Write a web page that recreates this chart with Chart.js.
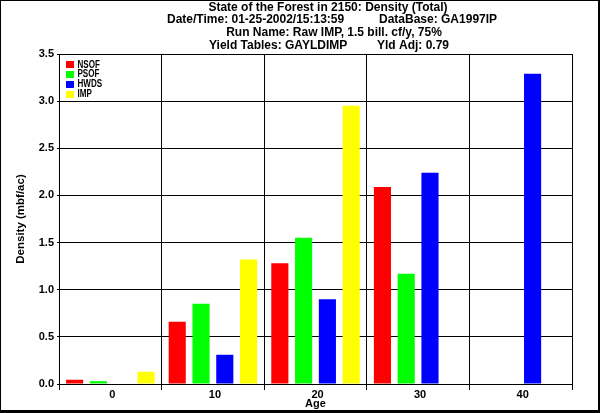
<!DOCTYPE html>
<html>
<head>
<meta charset="utf-8">
<script src="https://cdn.jsdelivr.net/npm/chart.js@4/dist/chart.umd.min.js"></script>
<style>
  html, body { margin: 0; padding: 0; background: #fff; }
  #wrap { width: 600px; height: 413px; }
  canvas { display: block; background: #fff; }
</style>
</head>
<body>
<div id="wrap"><canvas id="c" width="600" height="413"></canvas></div>
<script>
// ---- data ----
const categories = ['0', '10', '20', '30', '40'];
const seriesNames = ['NSOF', 'PSOF', 'HWDS', 'IMP'];
const seriesColors = ['#ff0000', '#00ff00', '#0000ff', '#ffff00'];
const nsofValues = [0.045, 0.66, 1.28, 2.09, null];
const psofValues = [0.03, 0.85, 1.55, 1.17, null];
const hwdsValues = [null, 0.31, 0.90, 2.24, 3.29];
const impValues  = [0.13, 1.32, 2.95, null, null];
const yMin = 0, yMax = 3.5, yStep = 0.5;
const titleLine1 = 'State of the Forest in 2150: Density (Total)';
const titleLine2a = 'Date/Time: 01-25-2002/15:13:59';
const titleLine2b = 'DataBase: GA1997IP';
const titleLine3 = 'Run Name: Raw IMP, 1.5 bill. cf/y, 75%';
const titleLine4a = 'Yield Tables: GAYLDIMP';
const titleLine4b = 'Yld Adj: 0.79';
const xTitle = 'Age';
const yTitle = 'Density (mbf/ac)';

const FONT = "'Liberation Sans', Arial, Helvetica, sans-serif";
const allValues = [nsofValues, psofValues, hwdsValues, impValues];

const datasets = seriesNames.map((name, i) => ({
  label: name,
  data: allValues[i],
  backgroundColor: seriesColors[i],
  borderWidth: 0,
  categoryPercentage: 0.927,
  barPercentage: 0.72
}));

const decorPlugin = {
  id: 'decor',
  afterDraw(chart) {
    const ctx = chart.ctx;
    ctx.save();
    // titles
    ctx.fillStyle = '#000';
    ctx.font = 'bold 12px ' + FONT;
    ctx.textBaseline = 'alphabetic';
    ctx.textAlign = 'center';
    ctx.fillText(titleLine1, 328, 10.5);
    ctx.fillText(titleLine3, 334, 36);
    ctx.textAlign = 'left';
    ctx.fillText(titleLine2a, 167, 23);
    ctx.fillText(titleLine2b, 379, 23);
    ctx.fillText(titleLine4a, 209, 48.5);
    ctx.fillText(titleLine4b, 377, 48.5);

    // legend (from datasets)
    chart.data.datasets.forEach((ds, i) => {
      const top = 61 + i * 9.9;
      ctx.fillStyle = ds.backgroundColor;
      ctx.fillRect(66, Math.round(top), 8, 7);
      ctx.save();
      ctx.fillStyle = '#000';
      ctx.font = 'bold 11.5px ' + FONT;
      ctx.textAlign = 'left';
      ctx.translate(77.5, 67.5 + i * 9.9);
      ctx.scale(0.7, 1);
      ctx.fillText(ds.label, 0, 0);
      ctx.restore();
    });

    // outer frame
    ctx.fillStyle = '#000';
    ctx.fillRect(0, 0, 600, 1);
    ctx.fillRect(0, 0, 1, 413);
    ctx.fillRect(598, 0, 2, 413);
    ctx.fillRect(0, 410, 600, 3);
    ctx.restore();
  }
};

new Chart(document.getElementById('c'), {
  type: 'bar',
  data: { labels: categories, datasets: datasets },
  options: {
    responsive: false,
    animation: false,
    devicePixelRatio: 1,
    layout: { padding: { top: 54, right: 28, left: 0, bottom: 0 } },
    plugins: {
      legend: { display: false },
      title: { display: false },
      tooltip: { enabled: false }
    },
    scales: {
      x: {
        grid: { color: '#000', lineWidth: 1, offset: true, tickLength: 6, drawTicks: true },
        border: { color: '#000', width: 1 },
        ticks: {
          color: '#000',
          font: { family: FONT, weight: 'bold', size: 11 },
          padding: -2,
          labelOffset: 2,
          maxRotation: 0,
          autoSkip: false
        },
        title: {
          display: true, text: xTitle, color: '#000',
          font: { family: FONT, weight: 'bold', size: 11 },
          padding: { top: 0, bottom: 2 }
        },
        afterFit(s) { s.height = 29; }
      },
      y: {
        min: yMin, max: yMax,
        grid: { color: '#000', lineWidth: 1, tickLength: 2, drawTicks: true },
        border: { color: '#000', width: 1 },
        ticks: {
          stepSize: yStep,
          color: '#000',
          font: { family: FONT, weight: 'bold', size: 11 },
          padding: 3,
          callback: v => Number(v).toFixed(1)
        },
        title: {
          display: true, text: yTitle, color: '#000',
          font: { family: FONT, weight: 'bold', size: 11.5 },
          padding: { top: 14, bottom: 0 }
        },
        afterFit(s) { s.width = 59; }
      }
    }
  },
  plugins: [decorPlugin]
});
</script>
</body>
</html>
